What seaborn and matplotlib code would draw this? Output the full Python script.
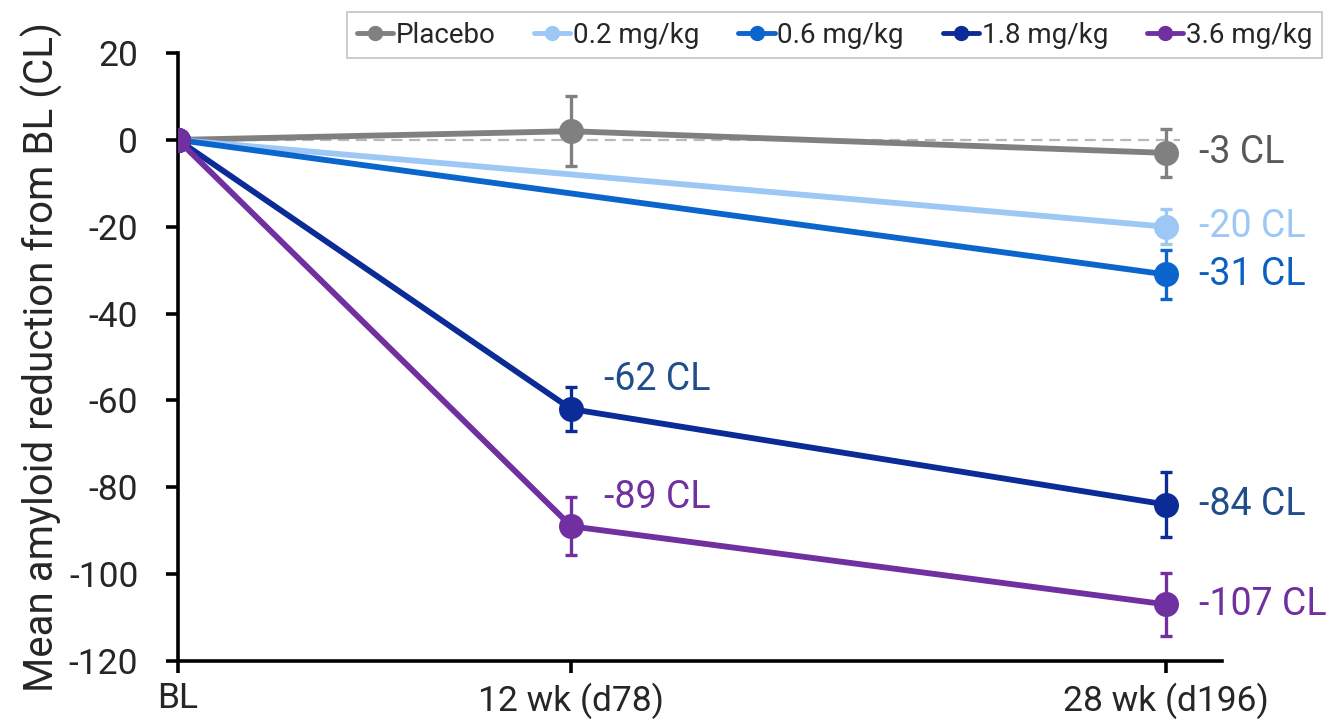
import seaborn as sns
import matplotlib.pyplot as plt
import pandas as pd
from matplotlib.lines import Line2D

# study days for each visit
visit_days = [0, 78, 196]
visit_labels = ['BL', '12 wk (d78)', '28 wk (d196)']

groups = ['Placebo', '0.2 mg/kg', '0.6 mg/kg', '1.8 mg/kg', '3.6 mg/kg']
colors = ['#808080', '#9DC8F5', '#0A66CC', '#0B2C96', '#7030A0']
label_colors = ['#595959', '#9DC8F5', '#0A5FC0', '#1F4E8A', '#7030A0']

# days measured per group (0.2 and 0.6 mg/kg had no 12 wk scan)
days_placebo = [0, 78, 196]
mean_placebo = [0, 2, -3]
err_placebo = [0, 8, 5.6]

days_02 = [0, 196]
mean_02 = [0, -20]
err_02 = [0, 4]

days_06 = [0, 196]
mean_06 = [0, -31]
err_06 = [0, 5.6]

days_18 = [0, 78, 196]
mean_18 = [0, -62, -84]
err_18 = [0, 5, 7.5]

days_36 = [0, 78, 196]
mean_36 = [0, -89, -107]
err_36 = [0, 6.7, 7.2]

series = [
    (days_placebo, mean_placebo, err_placebo),
    (days_02, mean_02, err_02),
    (days_06, mean_06, err_06),
    (days_18, mean_18, err_18),
    (days_36, mean_36, err_36),
]

rows = []
for g, (d, m, e) in zip(groups, series):
    for di, mi, ei in zip(d, m, e):
        rows.append({'group': g, 'day': di, 'mean': mi, 'err': ei})
df = pd.DataFrame(rows)

sns.set_style('white')
plt.rcParams['font.family'] = ['Roboto', 'DejaVu Sans']
plt.rcParams['axes.unicode_minus'] = False

fig, ax = plt.subplots(figsize=(13.38, 7.27), dpi=100)
fig.subplots_adjust(left=0.133, right=0.913, top=0.927, bottom=0.091)

ax.axhline(0, xmin=0, xmax=0.96, color='#b8b8b8', lw=1.6, ls=(0, (5, 3)), zorder=1)

sns.lineplot(data=df, x='day', y='mean', hue='group', hue_order=groups,
             palette=colors, marker='o', markersize=18, markeredgewidth=0,
             linewidth=4.2, legend=False, ax=ax, zorder=3)

for i, g in enumerate(groups):
    sub = df[(df['group'] == g) & (df['err'] > 0)]
    ax.errorbar(sub['day'], sub['mean'], yerr=sub['err'], fmt='none',
                ecolor=colors[i], elinewidth=2.4, capsize=4.5, capthick=2.4, zorder=2.5)

# end-of-line labels
for i, g in enumerate(groups):
    sub = df[df['group'] == g]
    last = sub.iloc[-1]
    ax.text(last['day'] + 6.5, last['mean'], f"{int(last['mean'])} CL",
            color=label_colors[i], fontsize=27, va='center', ha='left')
    if g in ('1.8 mg/kg', '3.6 mg/kg'):
        mid = sub[sub['day'] == 78].iloc[0]
        ax.text(mid['day'] + 6.5, mid['mean'] + 6.7, f"{int(mid['mean'])} CL",
                color=label_colors[i], fontsize=27, va='center', ha='left')

ax.set_xlim(0, 207)
ax.set_ylim(-120, 20)
ax.set_xticks(visit_days)
ax.set_xticklabels(visit_labels)
ax.set_yticks(range(-120, 21, 20))
ax.tick_params(axis='both', labelsize=25.5, length=8.5, width=2.6, direction='out',
               color='black', bottom=True, left=True)
ax.tick_params(axis='x', pad=7)
ax.tick_params(axis='y', pad=20)
for s in ['top', 'right']:
    ax.spines[s].set_visible(False)
for s in ['left', 'bottom']:
    ax.spines[s].set_color('black')
    ax.spines[s].set_linewidth(2.6)
ax.set_xlabel('')
ax.set_ylabel('Mean amyloid reduction from BL (CL)', fontsize=29, labelpad=4)

handles = [Line2D([0], [0], color=c, lw=3.5, marker='o', markersize=10) for c in colors]
leg = fig.legend(handles, groups, loc='upper left', bbox_to_anchor=(0.2593, 0.9835),
                 borderaxespad=0, ncol=5, frameon=True, fontsize=20, handlelength=1.3,
                 handletextpad=0.1, columnspacing=1.4, borderpad=0.35,
                 fancybox=False)
leg.get_frame().set_edgecolor('#c0c0c0')
leg.get_frame().set_linewidth(1.4)

fig.savefig('out.png', dpi=100)
